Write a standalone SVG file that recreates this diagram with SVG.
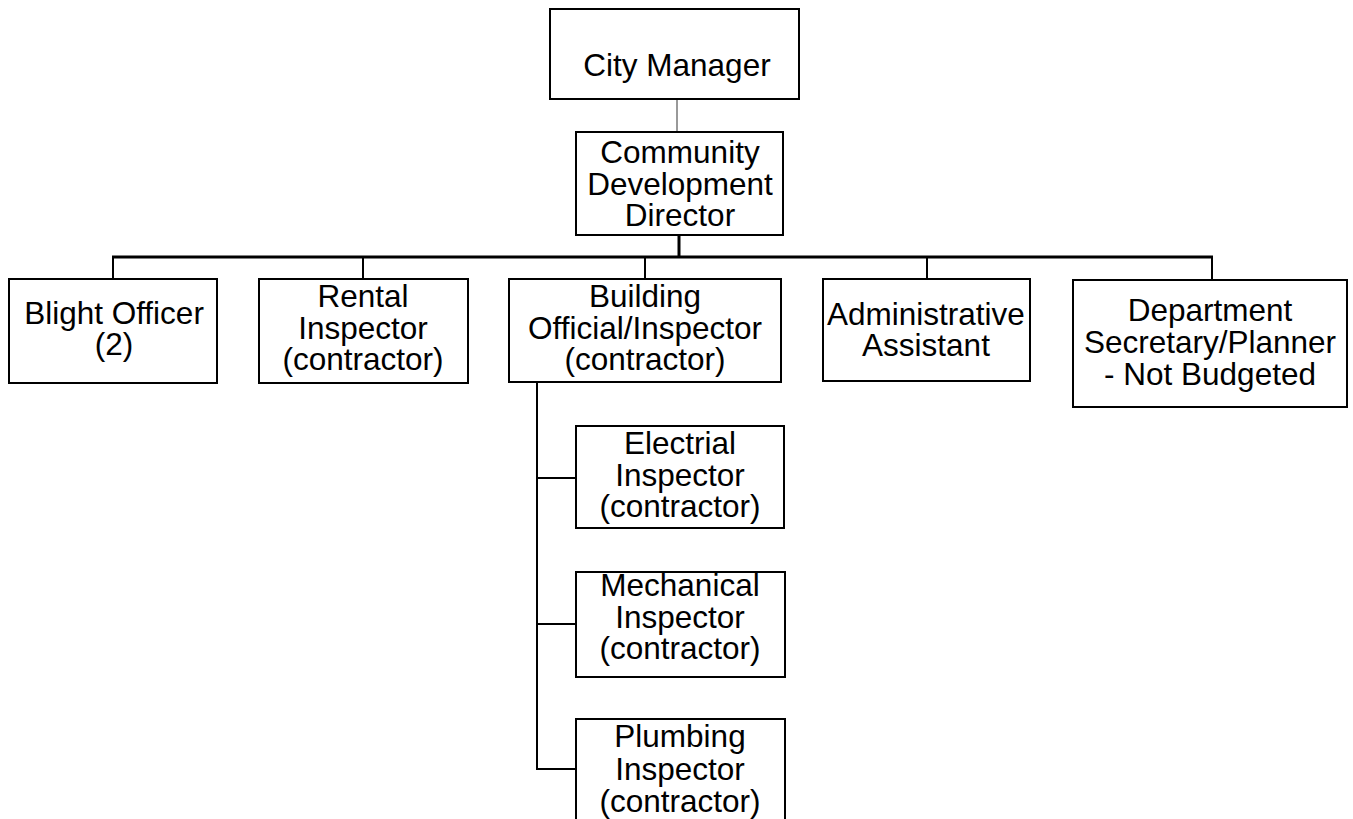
<svg xmlns="http://www.w3.org/2000/svg" width="1353" height="819" viewBox="0 0 1353 819">
<style>
.box{fill:#fff;stroke:#000;stroke-width:2}
.t{font-family:"Liberation Sans",Arial,sans-serif;font-size:31.5px;fill:#000;text-anchor:middle}
.ln{stroke:#000;stroke-width:2;fill:none}
</style>
<rect width="1353" height="819" fill="#fff"/>
<g id="connectors">
<line x1="677" y1="99" x2="677" y2="132" stroke="#555" stroke-width="1.2"/>
<line x1="679" y1="235" x2="679" y2="257" stroke="#000" stroke-width="3"/>
<line x1="112" y1="257" x2="1213" y2="257" stroke="#000" stroke-width="3"/>
<line class="ln" x1="113" y1="257" x2="113" y2="279"/>
<line class="ln" x1="363" y1="257" x2="363" y2="279"/>
<line class="ln" x1="645" y1="257" x2="645" y2="279"/>
<line class="ln" x1="927" y1="257" x2="927" y2="279"/>
<line class="ln" x1="1212" y1="257" x2="1212" y2="280"/>
<path class="ln" d="M537 382 V769 H576 M537 478 H576 M537 624 H576"/>
</g>
<g id="city-manager">
<rect class="box" x="550" y="9" width="249" height="90"/>
<text class="t" x="677" y="76">City Manager</text>
</g>
<g id="cdd">
<rect class="box" x="576" y="132" width="207" height="103"/>
<text class="t" x="680" y="163">Community</text>
<text class="t" x="680" y="195">Development</text>
<text class="t" x="680" y="226">Director</text>
</g>
<g id="blight">
<rect class="box" x="9" y="279" width="208" height="104"/>
<text class="t" x="114" y="324">Blight Officer</text>
<text class="t" x="114" y="355">(2)</text>
</g>
<g id="rental">
<rect class="box" x="259" y="279" width="209" height="104"/>
<text class="t" x="363" y="307">Rental</text>
<text class="t" x="363" y="339">Inspector</text>
<text class="t" x="363" y="370">(contractor)</text>
</g>
<g id="building">
<rect class="box" x="509" y="279" width="272" height="103"/>
<text class="t" x="645" y="307">Building</text>
<text class="t" x="645" y="339">Official/Inspector</text>
<text class="t" x="645" y="370">(contractor)</text>
</g>
<g id="admin">
<rect class="box" x="823" y="279" width="207" height="102"/>
<text class="t" x="926" y="325">Administrative</text>
<text class="t" x="926" y="356">Assistant</text>
</g>
<g id="dept">
<rect class="box" x="1073" y="280" width="274" height="127"/>
<text class="t" x="1210" y="321">Department</text>
<text class="t" x="1210" y="353">Secretary/Planner</text>
<text class="t" x="1210" y="385">- Not Budgeted</text>
</g>
<g id="electrical">
<rect class="box" x="576" y="426" width="208" height="102"/>
<text class="t" x="680" y="454">Electrial</text>
<text class="t" x="680" y="486">Inspector</text>
<text class="t" x="680" y="517">(contractor)</text>
</g>
<g id="mechanical">
<rect class="box" x="576" y="572" width="209" height="105"/>
<text class="t" x="680" y="596">Mechanical</text>
<text class="t" x="680" y="628">Inspector</text>
<text class="t" x="680" y="659">(contractor)</text>
</g>
<g id="plumbing">
<rect class="box" x="576" y="719" width="209" height="104"/>
<text class="t" x="680" y="747">Plumbing</text>
<text class="t" x="680" y="780">Inspector</text>
<text class="t" x="680" y="812">(contractor)</text>
</g>
</svg>
